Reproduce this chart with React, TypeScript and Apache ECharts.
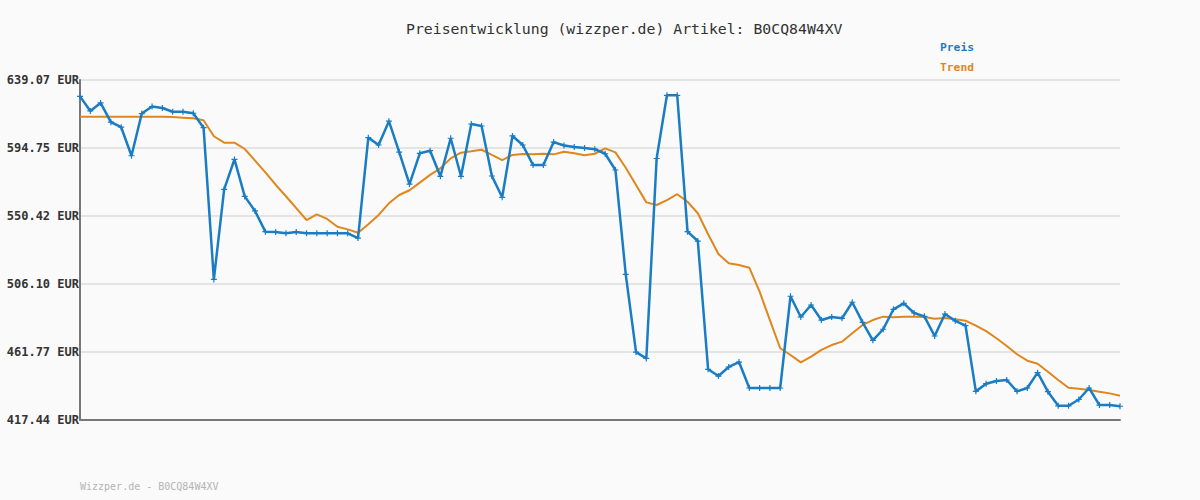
import React, { useEffect, useRef } from "react";
import * as echarts from "echarts";

const TITLE = "Preisentwicklung (wizzper.de) Artikel: B0CQ84W4XV";
const FOOTER = "Wizzper.de - B0CQ84W4XV";
const SERIES_NAMES = ["Preis", "Trend"];
const Y_TICK_LABELS = ["417.44 EUR", "461.77 EUR", "506.10 EUR", "550.42 EUR", "594.75 EUR", "639.07 EUR"];
const Y_MIN = 417.44;
const Y_MAX = 639.07;

const preis = [
  628.4, 618.9, 624.1, 611.6, 608.3, 589.7, 617.2, 621.8, 620.8, 618.4,
  618.4, 617.4, 608.0, 509.1, 567.8, 587.3, 563.2, 553.7, 540.2, 540.0,
  539.1, 540.0, 539.1, 539.1, 539.1, 539.1, 539.1, 536.0, 601.5, 596.7,
  612.2, 592.1, 571.2, 591.3, 593.0, 576.3, 601.1, 576.3, 610.4, 609.1,
  576.5, 562.6, 602.6, 596.7, 583.6, 583.6, 598.6, 596.4, 595.4, 594.7,
  594.0, 591.0, 580.4, 512.4, 461.7, 457.6, 587.9, 629.1, 629.1, 540.2,
  534.1, 450.5, 446.1, 452.0, 455.2, 438.3, 438.3, 438.3, 438.3, 498.1,
  484.6, 492.4, 482.6, 484.6, 483.7, 494.2, 481.1, 469.4, 476.6, 489.6,
  493.5, 487.2, 485.0, 472.2, 486.5, 482.1, 478.9, 436.1, 441.1, 442.9,
  443.5, 436.1, 438.3, 448.3, 435.9, 426.7, 426.7, 430.8, 438.3, 427.2,
  427.2, 426.4,
];

const trend = [
  615.1, 615.1, 615.1, 615.1, 615.1, 615.1, 615.1, 615.1, 615.1, 614.9,
  614.5, 614.1, 612.8, 602.4, 598.2, 598.2, 594.1, 586.5, 578.9, 570.8,
  563.3, 555.5, 547.8, 551.5, 548.5, 543.4, 541.7, 539.5, 545.0, 551.1,
  558.7, 564.1, 567.2, 572.2, 577.2, 581.5, 588.0, 591.7, 592.6, 593.6,
  590.2, 586.9, 590.2, 590.8, 590.6, 591.0, 590.6, 592.3, 591.3, 590.0,
  591.0, 594.5, 591.9, 581.9, 570.6, 559.3, 557.6, 560.8, 564.6, 559.7,
  552.2, 538.5, 525.6, 519.6, 518.5, 516.7, 501.1, 482.6, 464.2, 459.8,
  455.0, 458.7, 463.1, 466.3, 468.5, 474.0, 479.4, 482.6, 484.8, 484.4,
  484.8, 484.8, 484.6, 483.5, 483.9, 483.1, 482.2, 478.9, 475.4, 470.7,
  465.7, 460.3, 456.1, 454.1, 448.9, 443.5, 438.5, 437.8, 437.0, 435.9,
  434.8, 433.3,
];

const categories = preis.map((_, i) => String(i + 1));

const MONO = "'DejaVu Sans Mono', 'Liberation Mono', monospace";
const BLUE = "#1a7dc4";
const ORANGE = "#e0861c";

export default function App() {
  const ref = useRef<HTMLDivElement>(null);

  useEffect(() => {
    if (!ref.current) return;
    const chart = echarts.init(ref.current, undefined, { renderer: "svg" });
    const interval = (Y_MAX - Y_MIN) / 5;
    const off = (arr: number[]) => arr.map((v) => +(v - Y_MIN).toFixed(4));

    chart.setOption({
      animation: false,
      backgroundColor: "#fafafa",
      title: {
        text: TITLE,
        left: 401,
        top: 16,
        textStyle: { fontFamily: MONO, fontSize: 14.8, fontWeight: "normal", color: "#333" },
      },
      legend: {
        orient: "vertical",
        left: 930,
        top: 36,
        itemGap: 9,
        icon: "none",
        itemWidth: 0,
        itemHeight: 12,
        selectedMode: false,
        data: [
          { name: SERIES_NAMES[0], textStyle: { color: BLUE } },
          { name: SERIES_NAMES[1], textStyle: { color: ORANGE } },
        ],
        textStyle: { fontFamily: MONO, fontSize: 11.3, fontWeight: "bold" },
      },
      graphic: [
        {
          type: "text",
          left: 80,
          top: 481,
          style: { text: FOOTER, fill: "#b4b4b4", font: `10px ${MONO}` },
        },
      ],
      grid: { left: 80, right: 80, top: 80, bottom: 80, containLabel: false },
      xAxis: {
        type: "category",
        data: categories,
        boundaryGap: false,
        axisLine: { show: true, lineStyle: { color: "#777", width: 2 } },
        axisTick: { show: false },
        axisLabel: { show: false },
        splitLine: { show: false },
      },
      yAxis: {
        type: "value",
        min: 0,
        max: interval * 5,
        interval: interval,
        axisLine: { show: true, lineStyle: { color: "#777", width: 2 } },
        axisTick: { show: false },
        axisLabel: {
          margin: 1,
          fontFamily: MONO,
          fontSize: 12,
          fontWeight: "bold",
          color: "#333",
          formatter: (v: number) => Y_TICK_LABELS[Math.round(v / interval)] ?? "",
        },
        splitLine: { show: true, lineStyle: { color: "#e4e4e4", width: 2 } },
      },
      series: [
        {
          name: SERIES_NAMES[1],
          type: "line",
          data: off(trend),
          symbol: "none",
          lineStyle: { color: ORANGE, width: 2 },
          itemStyle: { color: ORANGE },
          z: 2,
        },
        {
          name: SERIES_NAMES[0],
          type: "line",
          data: off(preis),
          symbol: "path://M2,0L3,0L3,2L5,2L5,3L3,3L3,5L2,5L2,3L0,3L0,2L2,2Z",
          symbolSize: 6,
          lineStyle: { color: BLUE, width: 2.5 },
          itemStyle: { color: BLUE },
          z: 3,
        },
      ],
    });
    return () => chart.dispose();
  }, []);

  return (
    <div
      ref={ref}
      style={{ position: "absolute", left: 0, top: 0, width: 1200, height: 500 }}
    />
  );
}
